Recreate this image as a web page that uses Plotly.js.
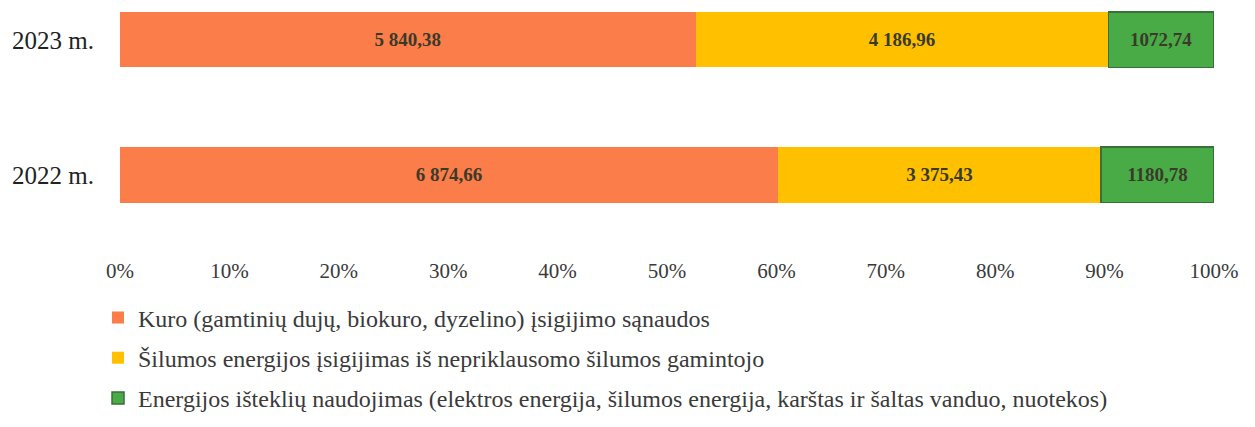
<!DOCTYPE html>
<html>
<head>
<meta charset="utf-8">
<script src="https://cdn.plot.ly/plotly-3.0.1.min.js"></script>
<style>
  html, body { margin: 0; padding: 0; background: #ffffff; }
  #chart { width: 1255px; height: 427px; }
</style>
</head>
<body>
<div id="chart"></div>
<script>
// Data
const years = ['2022 m.', '2023 m.'];
const seriesNames = [
  'Kuro (gamtinių dujų, biokuro, dyzelino) įsigijimo sąnaudos',
  'Šilumos energijos įsigijimas iš nepriklausomo šilumos gamintojo',
  'Energijos išteklių naudojimas (elektros energija, šilumos energija, karštas ir šaltas vanduo, nuotekos)'
];
const fuelValues = [6874.66, 5840.38];
const heatValues = [3375.43, 4186.96];
const resourceValues = [1180.78, 1072.74];
const fuelLabels = ['6 874,66', '5 840,38'];
const heatLabels = ['3 375,43', '4 186,96'];
const resourceLabels = ['1180,78', '1072,74'];
const xTickValues = [0, 10, 20, 30, 40, 50, 60, 70, 80, 90, 100];
const xTickLabels = ['0%', '10%', '20%', '30%', '40%', '50%', '60%', '70%', '80%', '90%', '100%'];

const serif = '"Liberation Serif", "DejaVu Serif", serif';
const barFont = { family: serif, size: 19, color: '#3a3a2a', weight: 'bold' };

function makeTrace(name, values, labels, color, lineColor, lineWidth, group) {
  return {
    type: 'bar',
    orientation: 'h',
    name: name,
    y: years,
    x: values,
    text: labels,
    texttemplate: '%{text}',
    textposition: 'inside',
    insidetextanchor: 'middle',
    textangle: 0,
    constraintext: 'none',
    insidetextfont: barFont,
    textfont: barFont,
    width: 0.41,
    legendgroup: group,
    marker: { color: color, line: { color: lineColor, width: lineWidth } },
    hoverinfo: 'skip'
  };
}

const data = [
  makeTrace(seriesNames[0], fuelValues, fuelLabels, '#FB7D49', '#FB7D49', 0, 'a'),
  makeTrace(seriesNames[1], heatValues, heatLabels, '#FFC000', '#FFC000', 0, 'b'),
  makeTrace(seriesNames[2], resourceValues, resourceLabels, '#48AB46', '#3A6E3A', 1.5, 'c')
];

const layout = {
  width: 1255,
  height: 427,
  paper_bgcolor: '#ffffff',
  plot_bgcolor: '#ffffff',
  barmode: 'stack',
  barnorm: 'percent',
  margin: { l: 120, r: 41, t: 6, b: 169.4, pad: 0 },
  font: { family: serif, color: '#333333' },
  xaxis: {
    range: [0, 100],
    tickmode: 'array',
    tickvals: xTickValues,
    ticktext: xTickLabels,
    showgrid: false,
    zeroline: false,
    showline: false,
    ticks: '',
    tickfont: { family: serif, size: 21, color: '#3a3a3a' },
    fixedrange: true
  },
  yaxis: {
    type: 'category',
    categoryorder: 'array',
    categoryarray: years,
    range: [-0.6, 1.25],
    showgrid: false,
    zeroline: false,
    showline: false,
    ticks: 'outside',
    ticklen: 20,
    tickcolor: 'rgba(0,0,0,0)',
    tickfont: { family: serif, size: 25, color: '#222222' },
    fixedrange: true
  },
  showlegend: true,
  legend: {
    orientation: 'v',
    traceorder: 'grouped',
    tracegroupgap: 6,
    x: -0.0201,
    xanchor: 'left',
    y: -0.158,
    yanchor: 'top',
    itemwidth: 30,
    font: { family: serif, size: 24, color: '#3a3a3a' },
    bgcolor: 'rgba(0,0,0,0)'
  }
};

Plotly.newPlot('chart', data, layout, { displayModeBar: false, staticPlot: true });
</script>
</body>
</html>
